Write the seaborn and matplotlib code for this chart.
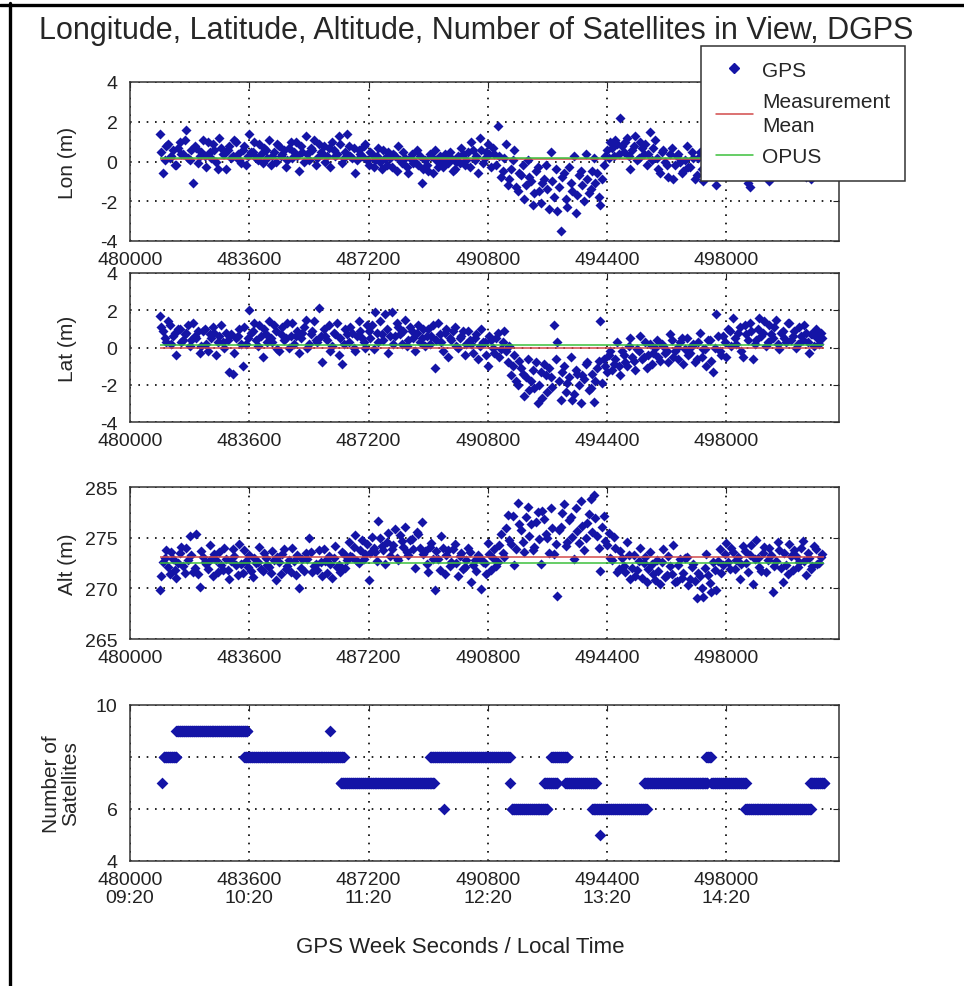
import numpy as np
import pandas as pd
import seaborn as sns
import matplotlib.pyplot as plt
from matplotlib.lines import Line2D

# GPS week seconds of the first fix and sampling step; the *_b fixes sit half a step later
t_first = 480900
t_step = 100

lon = [1.4, -0.6, 0.8, 0.2, 0.6, -0.2, 1.0, 0.4, 1.6, 0.1,
       -1.1, 0.7, 0.3, 1.1, -0.3, 0.5, 0.9, 0.0, 1.2, 0.4,
       -0.4, 0.8, 0.3, 1.0, 0.1, 0.6, -0.2, 1.4, 0.5, 0.2,
       0.9, -0.1, 0.6, 1.1, 0.3, 0.0, 0.8, 0.4, -0.3, 0.7,
       0.2, 1.0, -0.5, 0.5, 1.3, 0.1, 0.6, -0.2, 0.9, 0.4,
       0.0, 0.7, 1.0, 0.3, 1.3, -0.1, 0.5, 0.8, 0.2, -0.6,
       0.6, 0.3, 0.9, -0.2, 0.4, 0.1, 0.7, -0.4, 0.2, 0.5,
       -0.3, 0.3, 0.8, -0.1, 0.2, -0.6, 0.4, 0.0, -0.2, -1.1,
       0.1, -0.5, 0.3, 0.6, -0.3, 0.0, 0.4, -0.1, 0.2, -0.4,
       0.3, 0.7, -0.2, 0.5, 1.0, 0.1, -0.6, 0.6, 0.2, 0.9,
       -0.3, 0.4, 1.8, -0.8, 0.2, -1.2, -0.4, 0.6, -1.5, -0.7,
       -1.9, 0.1, -1.0, -1.6, -0.3, -2.1, -0.9, -1.4, 0.5, -1.8,
       -2.5, -3.5, -0.6, -2.3, -1.1, 0.3, -1.7, -0.5, -2.0, -0.9,
       -1.4, 0.2, -0.6, -2.2, -0.2, 0.6, 1.0, 0.3, 0.9, 2.2,
       0.5, 1.2, -0.4, 0.8, 0.1, 1.0, 0.4, -0.2, 1.5, 0.7,
       0.2, -0.6, 0.6, -0.2, 0.4, -0.9, 0.3, 0.0, -0.5, 0.8,
       -0.3, 0.2, -0.7, 0.5, -1.0, 0.1, -0.4, 0.3, -1.2, 0.0,
       -0.2, 0.4, -0.6, -0.1, 0.2, -0.6, -0.3, 0.1, -1.3, 0.3,
       -0.5, 0.0, 0.2, -0.4, -1.0, -0.1, -0.7, 0.1, 0.3, -0.3,
       0.0, -0.5, 0.4, -0.2, 0.1, -0.8, 0.2, -0.1, -0.4, 0.3,
       -0.2]
lon_b = [0.5, 0.1, 0.9, 0.3, -0.2, 0.7, 0.4, 1.1, 0.2, 0.6,
         0.8, -0.1, 0.5, 0.3, 1.0, 0.2, 0.6, -0.4, 0.7, 0.4,
         0.6, 0.2, 1.1, 0.4, -0.1, 0.8, 0.3, 0.5, 1.0, 0.1,
         0.4, 0.7, 0.2, -0.2, 0.5, 0.9, 0.3, 0.6, 0.1, 1.0,
         0.5, 0.3, 0.8, 0.0, 0.4, 0.7, 1.1, 0.2, 0.5, 0.8,
         0.3, -0.3, 0.6, 0.4, 0.9, 0.2, 1.4, 0.3, 0.7, 0.1,
         0.4, 0.8, 0.1, 0.5, -0.3, 0.3, 0.0, 0.6, -0.2, 0.2,
         0.4, -0.5, 0.1, 0.5, -0.3, 0.2, -0.1, 0.6, 0.3, -0.4,
         -0.2, 0.4, -0.6, 0.1, 0.3, -0.3, 0.2, 0.5, -0.5, 0.0,
         -0.1, 0.4, 0.1, -0.3, 0.6, 0.3, 1.2, -0.1, 0.5, 0.4,
         0.7, -0.2, 0.3, -0.5, 0.9, -0.9, 0.1, -1.3, -0.6, -0.2,
         -1.2, -0.8, -2.2, -0.5, -1.5, -1.1, -0.2, -2.4, -1.0, -0.4,
         -1.3, -0.8, -1.9, -0.3, -1.5, -2.6, -0.7, -1.2, 0.4, -1.6,
         -0.5, -1.1, -1.8, -0.9, 0.3, 0.2, 0.7, 1.1, 0.4, 0.8,
         1.0, 0.3, 0.6, 1.3, 0.2, 0.7, 0.9, 0.4, 0.1, 1.1,
         -0.4, 0.5, 0.0, -0.8, 0.7, -0.2, 0.4, -0.6, 0.1, -0.3,
         0.5, -0.9, 0.2, -0.4, 0.6, -0.2, 0.0, -0.6, 0.3, -0.5,
         0.1, -0.3, 0.5, -0.7, 0.0, 0.3, -0.4, -1.1, 0.2, -0.2,
         0.3, -0.6, -0.1, 0.4, -0.3, 0.1, -0.5, 0.2, -0.2, 0.5,
         -0.3, 0.2, -0.6, 0.0, 0.3, -0.2, -0.9, 0.4, -0.1, 0.1]

lat = [1.7, 0.9, 0.3, 1.2, 0.6, -0.4, 1.0, 0.4, 0.8, 0.1,
       1.3, 0.5, -0.3, 0.9, 0.2, 0.7, 1.1, -0.4, 0.6, 0.3,
       0.8, -1.3, -1.4, 0.5, 1.0, -1.0, 0.2, 2.0, 0.9, 0.4,
       1.2, -0.5, 0.7, 1.4, 0.3, 0.9, -0.2, 1.1, 0.5, 0.0,
       1.3, 0.6, -0.3, 0.8, 1.5, 0.2, 0.9, 0.4, 2.1, -0.8,
       0.6, 1.2, 0.1, 0.7, -0.4, -0.9, 1.0, 0.3, 0.8, -0.2,
       1.4, 0.5, 0.0, 0.9, 1.2, 1.9, 0.3, 0.7, 1.8, -0.3,
       1.9, 0.6, 1.1, 0.2, 1.5, 0.4, 0.9, -0.2, 1.2, 0.5,
       0.1, 1.0, 0.6, -1.1, 1.3, 0.3, 0.8, -0.5, 0.4, 1.1,
       0.0, 0.6, -0.4, 0.9, 0.2, 0.5, -0.6, 1.0, 0.3, -1.0,
       0.4, -0.3, 0.8, -0.1, 0.9, -0.8, -1.5, -0.4, -2.0, -1.1,
       -2.6, -0.6, -1.8, -2.2, -3.0, -1.3, -0.9, -2.4, -1.6, 1.2,
       0.3, -2.8, -1.0, -1.9, -0.5, -2.5, -1.4, -3.0, -1.7, -0.8,
       -2.2, -2.9, -1.1, 1.4, -0.6, -1.3, -0.2, -0.9, 0.3, -1.5,
       -0.4, -1.0, 0.5, -0.7, -0.1, 0.6, -0.5, -1.1, 0.2, -0.3,
       0.4, -0.7, 0.1, -0.2, 0.7, -0.5, 0.0, 0.3, -0.9, 0.5,
       -0.3, 0.2, -0.6, 0.8, -0.1, -1.0, 0.4, -1.3, 1.8, -0.2,
       0.6, -0.5, 0.9, 1.6, 0.2, 1.1, -0.5, 0.7, 1.3, -0.6,
       0.4, 1.6, 0.8, 0.1, 1.2, 0.5, 1.5, -0.1, 0.9, 0.3,
       1.3, 0.6, 0.0, 1.1, 0.4, 0.8, -0.3, 0.7, 1.0, 0.2,
       0.5]
lat_b = [1.1, 0.5, 1.4, 0.2, 0.8, 1.0, 0.3, 0.7, 1.2, 0.4,
         0.6, 0.9, 0.1, 1.0, -0.2, 0.5, 0.8, 0.3, 1.2, 0.0,
         0.4, 0.7, -0.3, 0.6, 0.2, 1.1, 0.5, 0.8, 1.3, 0.1,
         0.6, 1.0, 0.3, 0.5, 1.2, -0.1, 0.7, 0.4, 1.3, 0.6,
         0.2, 0.9, 0.5, 1.1, 0.0, 0.7, 1.4, 0.3, 0.6, 1.0,
         0.4, -0.2, 0.8, 1.3, 0.5, 0.2, 0.7, 1.1, 0.0, 0.6,
         0.9, 0.3, 1.2, 0.5, -0.1, 0.8, 1.4, 0.4, 1.0, 0.6,
         0.2, 1.3, 0.7, 0.9, 0.1, 1.1, 0.5, 0.8, 0.3, 1.0,
         0.6, 0.2, 1.2, 0.4, 0.7, -0.2, 1.0, 0.5, 0.9, 0.1,
         0.5, 0.9, 0.2, 0.4, -0.3, 0.7, 0.1, 0.3, -0.4, 0.6,
         0.0, 0.5, -0.5, 0.3, -0.2, 0.1, -1.0, -1.8, -0.7, -1.4,
         -1.6, -2.3, -1.2, -0.8, -2.0, -2.7, -1.5, -1.1, -2.1, -0.6,
         -1.8, -1.3, -2.4, -1.6, -2.8, -1.2, -2.0, -1.5, -0.9, -2.3,
         -1.4, -1.8, -0.7, -1.9, -1.0, -0.4, -1.2, -0.6, -1.0, -0.2,
         -0.8, 0.1, -0.5, -1.2, -0.2, -0.6, 0.3, -0.4, -0.9, 0.0,
         -0.5, 0.2, -0.3, -0.8, 0.4, -0.2, -0.6, 0.5, -0.1, -0.4,
         0.1, -0.8, 0.3, -0.5, -0.1, 0.4, -0.7, 0.0, 0.6, -0.4,
         0.3, 1.0, 0.1, 0.5, 0.8, -0.2, 1.2, 0.4, 0.9, 0.2,
         1.0, 0.6, 1.4, 0.3, 0.7, 1.1, 0.2, 0.8, 0.5, 1.3,
         0.4, 0.9, 0.2, 0.6, 1.2, 0.3, 0.7, 0.1, 0.5, 0.8]

alt = [269.8, 272.6, 273.8, 271.4, 272.9, 271.0, 273.5, 272.2, 274.0, 275.2,
       271.6, 275.4, 270.1, 273.1, 272.4, 274.3, 271.2, 272.8, 273.6, 271.8,
       272.9, 270.9, 273.9, 272.3, 274.4, 271.5, 272.7, 273.3, 271.1, 272.5,
       274.1, 271.7, 273.0, 272.1, 273.7, 270.8, 272.6, 273.4, 271.9, 272.8,
       274.0, 271.3, 270.0, 272.9, 273.5, 275.0, 271.6, 272.4, 273.8, 271.2,
       272.7, 273.2, 271.0, 274.2, 272.3, 273.6, 272.0, 274.6, 273.1, 275.3,
       272.5, 274.8, 273.4, 270.8, 275.1, 273.6, 276.6, 274.2, 272.4, 275.5,
       273.9, 275.9, 272.8, 274.7, 276.1, 273.3, 274.9, 272.0, 275.4, 276.5,
       273.7, 271.6, 274.5, 269.8, 272.9, 275.2, 271.4, 273.8, 272.6, 274.4,
       271.2, 273.5, 272.1, 274.0, 270.6, 272.8, 273.3, 269.9, 272.5, 274.5,
       271.8, 273.9, 272.6, 275.4, 273.1, 277.2, 274.4, 272.3, 278.4, 275.8,
       273.6, 278.0, 276.3, 274.1, 277.5, 272.4, 276.8, 275.0, 277.9, 273.4,
       269.2, 276.1, 278.3, 274.6, 277.0, 272.9, 275.7, 278.6, 273.8, 276.4,
       278.8, 279.2, 275.2, 271.7, 277.1, 274.3, 273.0, 275.1, 271.6, 273.7,
       272.2, 274.6, 270.9, 273.3, 271.8, 274.0, 272.5, 270.6, 273.6, 271.4,
       272.8, 270.4, 273.9, 271.3, 272.2, 274.3, 270.7, 272.9, 271.5, 273.1,
       270.9, 272.4, 269.0, 271.2, 269.1, 273.4, 270.5, 272.6, 269.8, 273.9,
       272.3, 274.5, 271.9, 273.6, 272.8, 270.9, 274.2, 272.5, 273.3, 270.4,
       274.8, 272.1, 273.5, 271.6, 274.0, 269.6, 272.7, 273.8, 270.6, 272.3,
       274.4, 271.8, 273.2, 272.6, 274.7, 271.3, 273.0, 272.2, 273.9, 272.5,
       273.4]
alt_b = [271.2, 273.0, 272.1, 273.6, 271.8, 272.5, 274.1, 271.5, 272.8, 273.3,
         272.0, 271.4, 273.7, 272.6, 271.9, 272.9, 273.4, 271.6, 272.3, 274.0,
         271.8, 272.7, 273.2, 271.3, 272.4, 273.8, 272.1, 271.7, 273.0, 272.6,
         271.9, 273.5, 272.3, 271.5, 272.8, 273.1, 271.4, 273.9, 272.2, 271.6,
         272.7, 273.3, 272.0, 271.7, 272.9, 273.6, 272.2, 271.8, 272.6, 273.9,
         271.5, 272.4, 273.0, 272.1, 271.6, 273.4, 272.8, 273.2, 274.1, 272.7,
         273.8, 272.9, 274.4, 273.5, 274.0, 272.7, 275.0, 273.8, 274.6, 273.2,
         274.3, 273.0, 275.3, 274.1, 273.6, 274.8, 273.9, 275.6, 274.0, 273.4,
         272.4, 274.1, 272.9, 273.7, 271.8, 274.0, 273.3, 272.2, 273.9, 272.5,
         273.2, 271.9, 272.8, 273.6, 272.3, 271.7, 273.0, 272.6, 271.4, 273.4,
         273.0, 272.2, 274.3, 273.5, 276.0, 274.8, 277.1, 273.9, 276.3, 274.6,
         277.0, 275.2, 273.8, 276.5, 274.9, 277.6, 275.4, 273.5, 276.0, 274.4,
         275.8, 277.4, 274.2, 276.7, 275.1, 277.9, 274.5, 276.2, 275.0, 277.3,
         275.6, 276.9, 274.0, 276.1, 274.7, 275.5, 272.8, 274.0, 271.9, 273.0,
         271.6, 273.3, 272.0, 271.2, 272.7, 271.0, 273.1, 271.9, 272.4, 270.8,
         271.7, 272.6, 271.1, 273.2, 271.4, 270.6, 272.3, 271.0, 273.0, 270.3,
         272.1, 270.7, 271.5, 270.0, 272.0, 271.3, 269.6, 271.8, 272.7, 271.5,
         273.4, 272.6, 274.0, 271.9, 273.1, 272.4, 273.7, 271.6, 274.3, 272.9,
         273.0, 271.7, 274.1, 272.8, 273.3, 272.2, 274.6, 272.0, 273.5, 271.4,
         273.2, 273.8, 272.1, 274.0, 272.7, 273.5, 271.9, 274.2, 272.4, 273.1]

# reference lines: measurement mean and OPUS solution
lon_mean, lon_opus = 0.15, 0.2
lat_mean, lat_opus = 0.0, 0.15
alt_mean, alt_opus = 273.1, 272.5
line_t0, line_t1 = 480900, 500950

# satellites in view, as runs (first second, last second, count)
sat_start = [480960, 481020, 481400, 483450, 486030, 486360, 489480, 489060,
             491460, 491520, 492500, 492720, 493140, 493950, 494190, 495510,
             497400, 497550, 498570, 500520]
sat_end = [480960, 481410, 483540, 486450, 486030, 489180, 489480, 491460,
           491460, 492600, 492900, 493200, 494070, 495600, 494190, 497430,
           497550, 498600, 500550, 500970]
sat_count = [7, 8, 9, 8, 9, 7, 6, 8, 7, 6, 7, 8, 7, 6, 5, 7, 8, 7, 6, 7]

xticks = [480000, 483600, 487200, 490800, 494400, 498000]
local_time = ['09:20', '10:20', '11:20', '12:20', '13:20', '14:20']

blue = '#1414a6'
red = '#d24a4a'
green = '#3cc03c'

sns.set_style('white')
plt.rcParams['font.family'] = ['Liberation Sans', 'DejaVu Sans']
plt.rcParams['axes.unicode_minus'] = False

df_a = pd.DataFrame({'t': t_first + t_step * np.arange(len(lon)),
                     'lon': lon, 'lat': lat, 'alt': alt})
df_b = pd.DataFrame({'t': t_first + t_step // 2 + t_step * np.arange(len(lon_b)),
                     'lon': lon_b, 'lat': lat_b, 'alt': alt_b})
df = pd.concat([df_a, df_b], ignore_index=True)

sat_t, sat_n = [], []
for a, b, n in zip(sat_start, sat_end, sat_count):
    run = np.arange(a, b + 1, 20)
    sat_t += list(run)
    sat_n += [n] * len(run)
sats = pd.DataFrame({'t': sat_t, 'n': sat_n})

fig = plt.figure(figsize=(9.64, 9.87), dpi=100)
W, H = 964, 987
left, width = 130 / W, 709 / W
boxes = [(83, 242), (274, 423), (488, 640), (706, 862)]
axes = [fig.add_axes([left, 1 - b / H, width, (b - t) / H]) for t, b in boxes]

panels = [('lon', 'Lon (m)', lon_mean, lon_opus),
          ('lat', 'Lat (m)', lat_mean, lat_opus),
          ('alt', 'Alt (m)', alt_mean, alt_opus)]
for ax, (col, lab, m, o) in zip(axes[:3], panels):
    sns.scatterplot(data=df, x='t', y=col, ax=ax, marker='D', s=26,
                    color=blue, edgecolor=blue, linewidth=0, zorder=3)
    ax.hlines(m, line_t0, line_t1, color=red, lw=1.1, zorder=4)
    ax.hlines(o, line_t0, line_t1, color=green, lw=1.1, zorder=4)
    ax.set_ylabel(lab, fontsize=15)
    ax.yaxis.set_label_coords(-0.075, 0.5)

sns.scatterplot(data=sats, x='t', y='n', ax=axes[3], marker='D', s=36,
                color=blue, edgecolor=blue, linewidth=0, zorder=3)
axes[3].set_ylabel('Number of\nSatellites', fontsize=15, linespacing=1.0)
axes[3].yaxis.set_label_coords(-0.07, 0.5)

for ax in axes[:2]:
    ax.set_ylim(-4, 4)
    ax.set_yticks([-4, -2, 0, 2, 4])
axes[2].set_ylim(265, 280)
axes[2].set_yticks([265, 270, 275, 280])
axes[2].set_yticklabels(['265', '270', '275', '285'])
axes[3].set_ylim(4, 10)
axes[3].set_yticks([4, 6, 8, 10])
axes[3].set_yticklabels(['4', '6', '', '10'])

for i, ax in enumerate(axes):
    ax.set_xlim(480000, 501400)
    ax.set_xticks(xticks)
    if i < 3:
        ax.set_xticklabels([str(x) for x in xticks])
    else:
        ax.set_xticklabels([f'{x}\n{lt}' for x, lt in zip(xticks, local_time)],
                           linespacing=1.1)
    ax.set_xlabel('')
    ax.grid(True, linestyle=(0, (1, 4)), color='black', linewidth=1.2)
    ax.tick_params(direction='in', top=True, right=True, length=4,
                   labelsize=14, colors='#222222', pad=7)
    ax.tick_params(axis='y', pad=9)
    for s in ax.spines.values():
        s.set_color('#333333')
        s.set_linewidth(1.1)

handles = [Line2D([], [], marker='D', linestyle='none', color=blue, markersize=5),
           Line2D([], [], color=red, lw=1.1),
           Line2D([], [], color=green, lw=1.1)]
leg = axes[0].legend(handles, ['GPS', 'Measurement\nMean', 'OPUS'],
                     loc='upper left', bbox_to_anchor=(701 / W, 1 - 47 / H),
                     bbox_transform=fig.transFigure, fontsize=15,
                     frameon=True, fancybox=False, framealpha=1,
                     edgecolor='#333333', handlelength=1.8, borderaxespad=0,
                     handletextpad=0.45, labelspacing=0.6, borderpad=0.7)
leg.get_frame().set_linewidth(1.1)
for txt in leg.get_texts():
    txt.set_linespacing(1.3)
leg.set_zorder(10)

fig.text(476 / W, 1 - 31 / H,
         'Longitude, Latitude, Altitude, Number of Satellites in View, DGPS',
         ha='center', va='center', fontsize=22)
fig.text(460 / W, 1 - 948 / H, 'GPS Week Seconds / Local Time',
         ha='center', va='center', fontsize=16, color='#222222')

# frame edges of the original screenshot
fig.add_artist(Line2D([0, 1], [1 - 5.5 / H, 1 - 5.5 / H], color='black', lw=2.4))
fig.add_artist(Line2D([9.5 / W, 9.5 / W], [0, 1 - 4 / H], color='black', lw=2.4))

fig.savefig('out.png', dpi=100)
